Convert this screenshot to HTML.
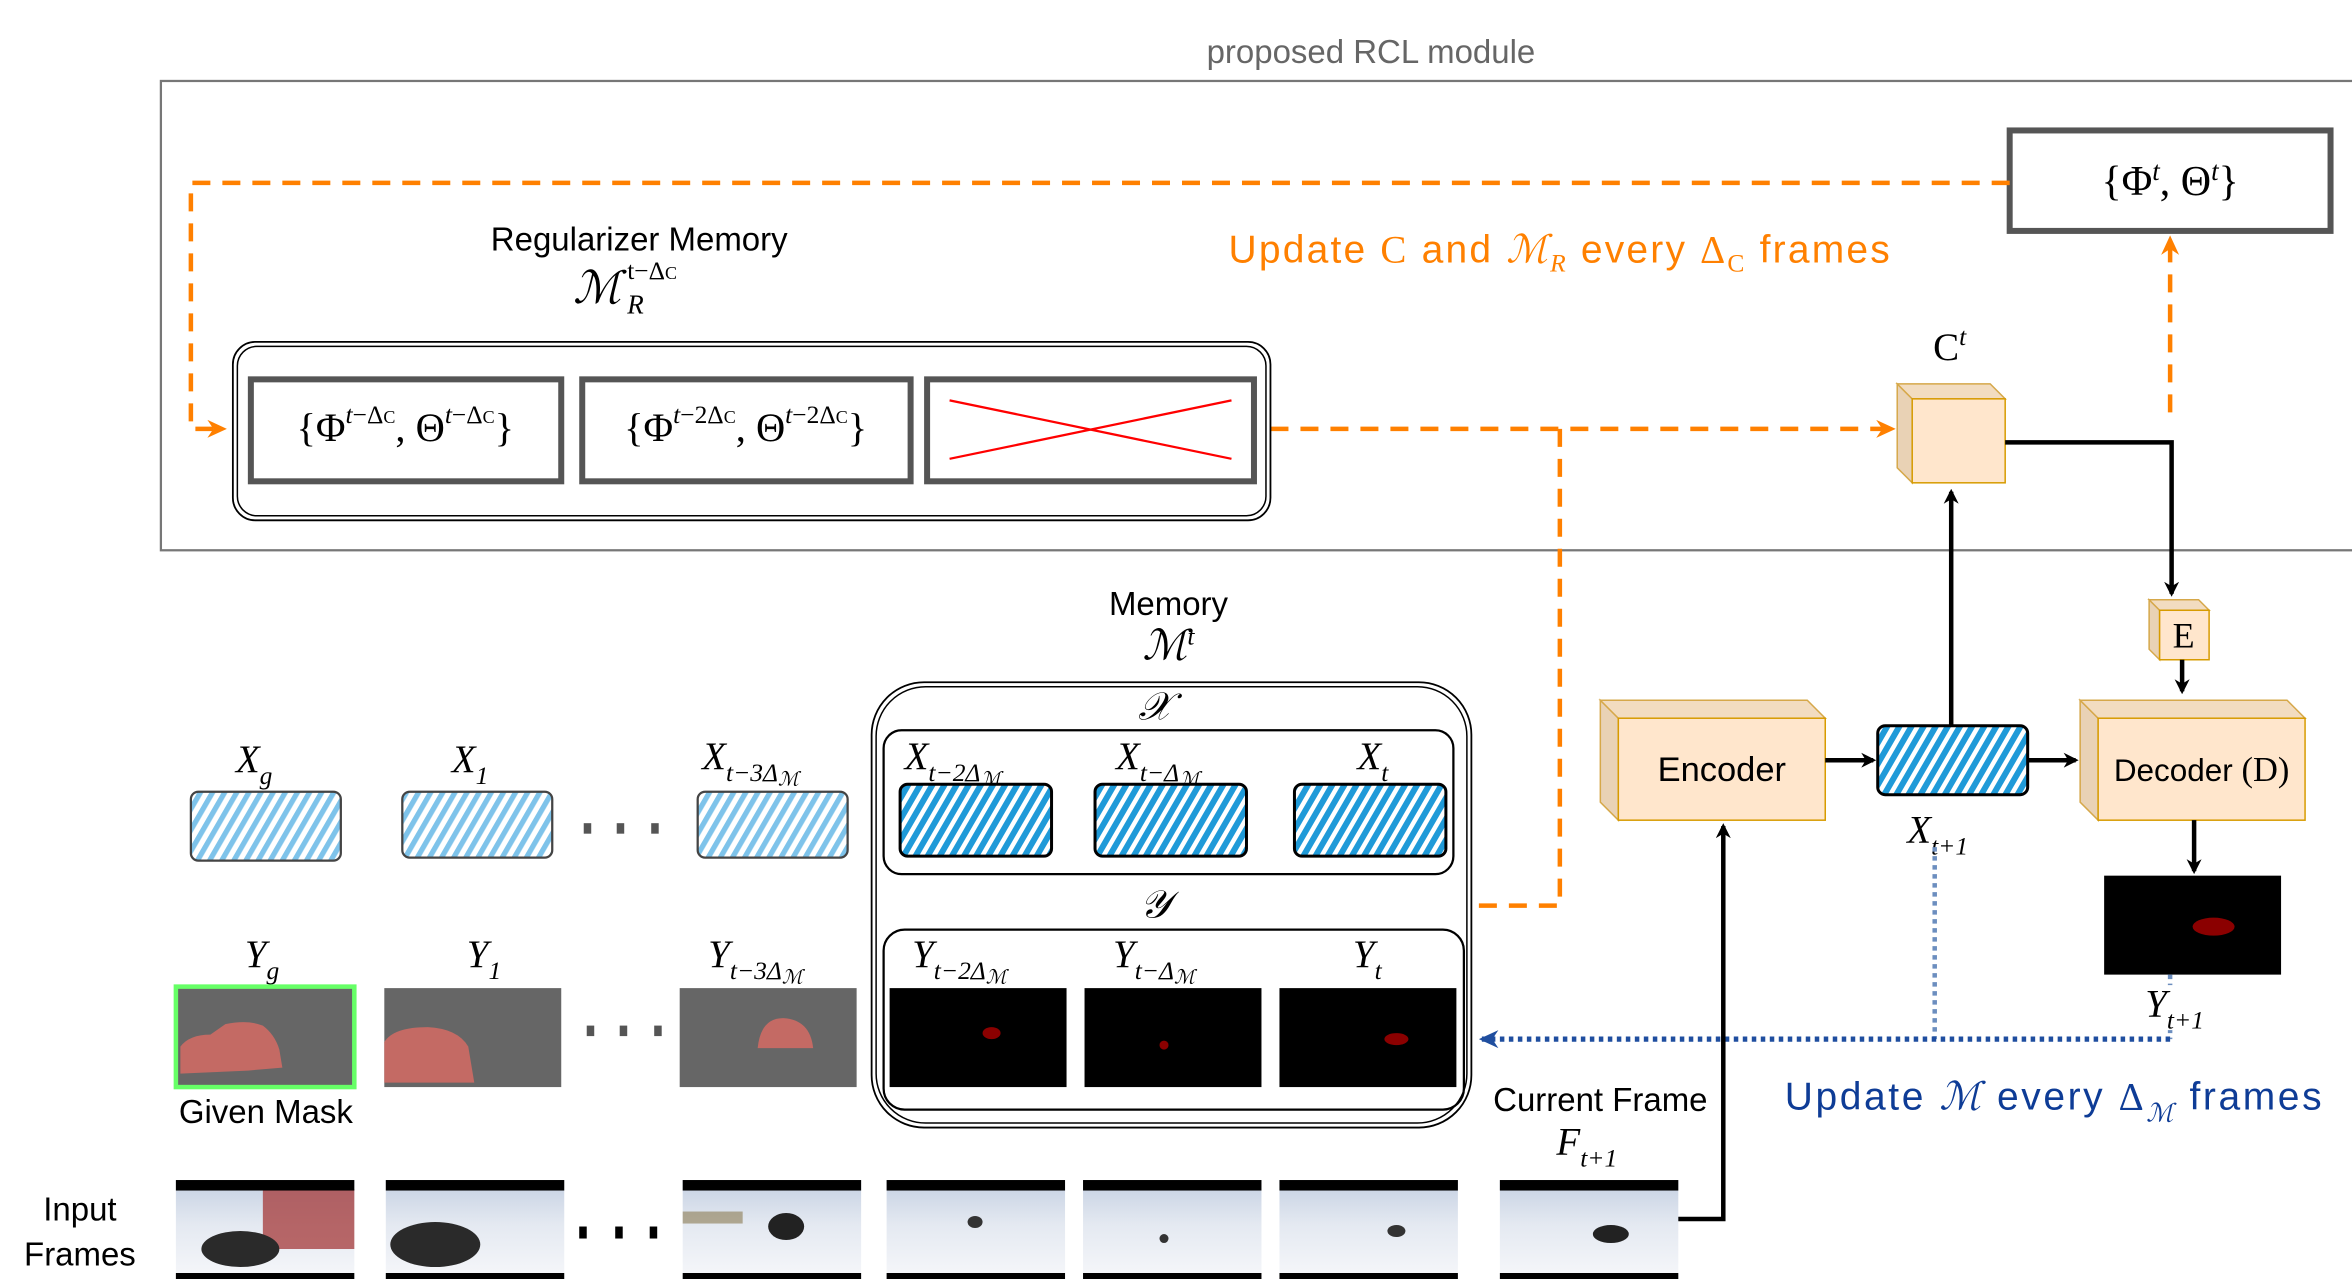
<!DOCTYPE html>
<html><head><meta charset="utf-8"><style>
html,body{margin:0;padding:0;background:#fff;}
svg{display:block}
.s{font-family:"Liberation Sans",sans-serif;}
.m{font-family:"Liberation Serif",serif;font-style:italic;}
.r{font-family:"Liberation Serif",serif;}
</style></head><body>
<svg width="2352" height="1282" viewBox="0 0 1568 855" xmlns="http://www.w3.org/2000/svg">
<defs>
<pattern id="h1" patternUnits="userSpaceOnUse" width="7" height="7" patternTransform="rotate(30)">
<rect width="7" height="7" fill="#fff"/><rect width="3.5" height="7" fill="#7ec3ea"/></pattern>
<pattern id="h2" patternUnits="userSpaceOnUse" width="7" height="7" patternTransform="rotate(30)">
<rect width="7" height="7" fill="#fff"/><rect width="4" height="7" fill="#1f9ad8"/></pattern>
<marker id="ab" markerWidth="10" markerHeight="10" refX="8" refY="5" orient="auto" markerUnits="userSpaceOnUse"><path d="M0,0 L10,5 L0,10 L3,5z" fill="#000"/></marker>
<marker id="ao" markerWidth="14" markerHeight="14" refX="12" refY="7" orient="auto" markerUnits="userSpaceOnUse"><path d="M0,1 L13,7 L0,13 L4,7z" fill="#ff8000"/></marker>
<marker id="abl" markerWidth="14" markerHeight="14" refX="12" refY="7" orient="auto" markerUnits="userSpaceOnUse"><path d="M0,1 L13,7 L0,13 L4,7z" fill="#1f4e9f"/></marker>
<linearGradient id="fr" x1="0" y1="0" x2="0" y2="1"><stop offset="0" stop-color="#c5d0e2"/><stop offset="0.45" stop-color="#e4e9f1"/><stop offset="1" stop-color="#f6f7fa"/></linearGradient>
</defs>

<text x="914" y="42" class="s" font-size="22" fill="#666" text-anchor="middle">proposed RCL module</text>
<rect x="107" y="54" width="1470" height="313" fill="none" stroke="#777" stroke-width="1.5"/>

<rect x="1340" y="87" width="214" height="67" fill="#fff" stroke="#555" stroke-width="4"/>
<text x="1447" y="130" class="r" font-size="28" text-anchor="middle">{Φ<tspan font-size="18" dy="-10" font-style="italic">t</tspan><tspan dy="10">, Θ</tspan><tspan font-size="18" dy="-10" font-style="italic">t</tspan><tspan dy="10">}</tspan></text>

<g stroke="#ff8000" stroke-width="3" stroke-dasharray="12,8" fill="none">
<path d="M1340,122 H127 V286 H150" marker-end="url(#ao)"/>
<path d="M847,286 H1263" marker-end="url(#ao)"/>
<path d="M1040,286 V604 H983"/>
<path d="M1447,275 V158" marker-end="url(#ao)"/>
</g>
<text x="819" y="175" class="s" font-size="26" fill="#ff8000" textLength="441" lengthAdjust="spacing">Update <tspan class="r">C</tspan> and <tspan class="m">ℳ</tspan><tspan class="m" font-size="17" dy="6">R</tspan><tspan dy="-6"> every </tspan><tspan class="r">Δ</tspan><tspan class="r" font-size="17" dy="6">C</tspan><tspan dy="-6"> frames</tspan></text>

<text x="426" y="167" class="s" font-size="22" text-anchor="middle">Regularizer Memory</text>
<text x="398" y="202" class="m" font-size="30" text-anchor="middle">ℳ</text>
<text x="418" y="186" class="r" font-size="17">t−Δ<tspan font-size="12">C</tspan></text>
<text x="418" y="209" class="m" font-size="18">R</text>

<rect x="155" y="228" width="692" height="119" rx="15" fill="#fff" stroke="#000" stroke-width="1.2"/>
<rect x="158" y="231" width="686" height="113" rx="13" fill="none" stroke="#000" stroke-width="1"/>
<rect x="167" y="253" width="207" height="68" fill="#fff" stroke="#555" stroke-width="4"/>
<rect x="388" y="253" width="219" height="68" fill="#fff" stroke="#555" stroke-width="4"/>
<rect x="618" y="253" width="218" height="68" fill="#fff" stroke="#555" stroke-width="4"/>
<text x="270" y="294" class="r" font-size="27" text-anchor="middle">{Φ<tspan font-size="17" dy="-12" font-style="italic">t</tspan><tspan font-size="17" dy="0">−Δ</tspan><tspan font-size="12">C</tspan><tspan dy="12">, Θ</tspan><tspan font-size="17" dy="-12" font-style="italic">t</tspan><tspan font-size="17">−Δ</tspan><tspan font-size="12">C</tspan><tspan dy="12">}</tspan></text>
<text x="497" y="294" class="r" font-size="27" text-anchor="middle">{Φ<tspan font-size="17" dy="-12" font-style="italic">t</tspan><tspan font-size="17">−2Δ</tspan><tspan font-size="12">C</tspan><tspan dy="12">, Θ</tspan><tspan font-size="17" dy="-12" font-style="italic">t</tspan><tspan font-size="17">−2Δ</tspan><tspan font-size="12">C</tspan><tspan dy="12">}</tspan></text>
<line x1="633" y1="267" x2="821" y2="306" stroke="#f00" stroke-width="1.5"/>
<line x1="633" y1="306" x2="821" y2="267" stroke="#f00" stroke-width="1.5"/>

<path d="M1265,256 L1275,266 L1275,322 L1265,312z" fill="#e9d2b5" stroke="#d6a84a"/>
<path d="M1265,256 L1327,256 L1337,266 L1275,266z" fill="#f2dcc0" stroke="#d6a84a"/>
<rect x="1275" y="266" width="62" height="56" fill="#ffe6cc" stroke="#d79b00"/>
<text x="1300" y="240" class="r" font-size="26" text-anchor="middle">C<tspan font-size="17" dy="-10" font-style="italic">t</tspan></text>

<path d="M1337,295 H1448 V396" fill="none" stroke="#000" stroke-width="3" marker-end="url(#ab)"/>
<path d="M1433,400 L1440,407 L1440,440 L1433,433z" fill="#e9d2b5" stroke="#d6a84a"/>
<path d="M1433,400 L1466,400 L1473,407 L1440,407z" fill="#f2dcc0" stroke="#d6a84a"/>
<rect x="1440" y="407" width="33" height="33" fill="#ffe6cc" stroke="#d79b00"/>
<text x="1456" y="432" class="r" font-size="24" text-anchor="middle">E</text>
<path d="M1455,440 V461" stroke="#000" stroke-width="3" marker-end="url(#ab)"/>

<path d="M1067,467 L1079,479 L1079,547 L1067,535z" fill="#e9d2b5" stroke="#d6a84a"/>
<path d="M1067,467 L1205,467 L1217,479 L1079,479z" fill="#f2dcc0" stroke="#d6a84a"/>
<rect x="1079" y="479" width="138" height="68" fill="#ffe6cc" stroke="#d79b00"/>
<text x="1148" y="521" class="s" font-size="23" text-anchor="middle">Encoder</text>
<path d="M1387,467 L1399,479 L1399,547 L1387,535z" fill="#e9d2b5" stroke="#d6a84a"/>
<path d="M1387,467 L1525,467 L1537,479 L1399,479z" fill="#f2dcc0" stroke="#d6a84a"/>
<rect x="1399" y="479" width="138" height="68" fill="#ffe6cc" stroke="#d79b00"/>
<text x="1468" y="521" class="s" font-size="21" text-anchor="middle">Decoder <tspan class="r" font-size="23">(D)</tspan></text>

<path d="M1217,507 H1249" stroke="#000" stroke-width="3" marker-end="url(#ab)"/>
<rect x="1252" y="484" width="100" height="46" rx="5" fill="url(#h2)" stroke="#000" stroke-width="2"/>
<path d="M1352,507 H1384" stroke="#000" stroke-width="3" marker-end="url(#ab)"/>
<path d="M1301,484 V328" stroke="#000" stroke-width="3" marker-end="url(#ab)"/>
<text x="1292" y="562" class="m" font-size="26" text-anchor="middle">X<tspan font-size="17" dy="8">t+1</tspan></text>
<path d="M1463,547 V581" stroke="#000" stroke-width="3" marker-end="url(#ab)"/>
<rect x="1403" y="584" width="118" height="66" fill="#000"/>
<ellipse cx="1476" cy="618" rx="14" ry="6" fill="#8b0000"/>

<path d="M1290,565 V693 M1447,650 V693" stroke="#6c8ebf" stroke-width="3" stroke-dasharray="3,3" fill="none"/>
<path d="M1447,693 H987" stroke="#1f4e9f" stroke-width="3.5" stroke-dasharray="3,3" fill="none" marker-end="url(#abl)"/>
<rect x="1432" y="657" width="40" height="30" fill="#fff"/>
<text x="1450" y="678" class="m" font-size="26" text-anchor="middle">Y<tspan font-size="17" dy="8">t+1</tspan></text>
<text x="1190" y="740" class="s" font-size="26" fill="#0e3c96" textLength="358" lengthAdjust="spacing">Update <tspan class="m">ℳ</tspan> every <tspan class="r">Δ</tspan><tspan class="m" font-size="17" dy="8">ℳ</tspan><tspan dy="-8"> frames</tspan></text>

<text x="779" y="410" class="s" font-size="22" text-anchor="middle">Memory</text>
<text x="779" y="440" class="m" font-size="28" text-anchor="middle">ℳ<tspan font-size="17" dy="-10">t</tspan></text>
<rect x="581" y="455" width="400" height="297" rx="35" fill="#fff" stroke="#000" stroke-width="1.2"/>
<rect x="584" y="458" width="394" height="291" rx="33" fill="none" stroke="#000" stroke-width="1"/>
<text x="770" y="480" class="m" font-size="26" text-anchor="middle">𝒳</text>
<rect x="589" y="487" width="380" height="96" rx="12" fill="none" stroke="#000" stroke-width="1.5"/>
<text x="770" y="612" class="m" font-size="26" text-anchor="middle">𝒴</text>
<rect x="589" y="620" width="387" height="120" rx="14" fill="none" stroke="#000" stroke-width="1.5"/>

<g class="m" font-size="26">
<text x="603" y="513">X<tspan font-size="17" dy="8">t−2Δ</tspan><tspan font-size="13" dy="3">ℳ</tspan></text>
<text x="744" y="513">X<tspan font-size="17" dy="8">t−Δ</tspan><tspan font-size="13" dy="3">ℳ</tspan></text>
<text x="905" y="513">X<tspan font-size="17" dy="8">t</tspan></text>
<text x="157" y="515">X<tspan font-size="17" dy="8">g</tspan></text>
<text x="301" y="515">X<tspan font-size="17" dy="8">1</tspan></text>
<text x="468" y="513">X<tspan font-size="17" dy="8">t−3Δ</tspan><tspan font-size="13" dy="3">ℳ</tspan></text>
<text x="608" y="645">Y<tspan font-size="17" dy="8">t−2Δ</tspan><tspan font-size="13" dy="3">ℳ</tspan></text>
<text x="742" y="645">Y<tspan font-size="17" dy="8">t−Δ</tspan><tspan font-size="13" dy="3">ℳ</tspan></text>
<text x="902" y="645">Y<tspan font-size="17" dy="8">t</tspan></text>
<text x="163" y="645">Y<tspan font-size="17" dy="8">g</tspan></text>
<text x="311" y="645">Y<tspan font-size="17" dy="8">1</tspan></text>
<text x="472" y="645">Y<tspan font-size="17" dy="8">t−3Δ</tspan><tspan font-size="13" dy="3">ℳ</tspan></text>
</g>

<rect x="600" y="523" width="101" height="48" rx="5" fill="url(#h2)" stroke="#000" stroke-width="2"/>
<rect x="730" y="523" width="101" height="48" rx="5" fill="url(#h2)" stroke="#000" stroke-width="2"/>
<rect x="863" y="523" width="101" height="48" rx="5" fill="url(#h2)" stroke="#000" stroke-width="2"/>
<rect x="127" y="528" width="100" height="46" rx="5" fill="url(#h1)" stroke="#444" stroke-width="1.5"/>
<rect x="268" y="528" width="100" height="44" rx="5" fill="url(#h1)" stroke="#444" stroke-width="1.5"/>
<rect x="465" y="528" width="100" height="44" rx="5" fill="url(#h1)" stroke="#444" stroke-width="1.5"/>
<g fill="#555"><rect x="389" y="549" width="5" height="7"/><rect x="411" y="549" width="5" height="7"/><rect x="434" y="549" width="5" height="7"/>
<rect x="391" y="684" width="5" height="7"/><rect x="413" y="684" width="5" height="7"/><rect x="436" y="684" width="5" height="7"/></g>

<rect x="117" y="658" width="119" height="67" fill="#666" stroke="#6f6" stroke-width="3"/>
<path d="M120,716 L120,698 Q126,690 140,690 L150,683 Q165,680 175,684 Q183,690 186,700 L188,712 L165,714z" fill="#c46a64"/>
<rect x="256" y="659" width="118" height="66" fill="#666"/>
<path d="M256,722 L256,695 Q262,685 285,685 Q305,686 312,698 L316,722z" fill="#c46a64"/>
<rect x="453" y="659" width="118" height="66" fill="#666"/>
<path d="M505,699 Q507,679 522,679 Q540,680 542,699z" fill="#c46a64"/>
<rect x="593" y="659" width="118" height="66" fill="#000"/><ellipse cx="661" cy="689" rx="6" ry="4" fill="#8b0000"/>
<rect x="723" y="659" width="118" height="66" fill="#000"/><ellipse cx="776" cy="697" rx="3" ry="3" fill="#8b0000"/>
<rect x="853" y="659" width="118" height="66" fill="#000"/><ellipse cx="931" cy="693" rx="8" ry="4" fill="#8b0000"/>
<text x="177" y="749" class="s" font-size="22" text-anchor="middle">Given Mask</text>

<text x="1067" y="741" class="s" font-size="22" text-anchor="middle">Current Frame</text>
<text x="1058" y="770" class="m" font-size="26" text-anchor="middle">F<tspan font-size="17" dy="8">t+1</tspan></text>
<text x="53" y="814" class="s" font-size="22" text-anchor="middle">Input</text>
<text x="53" y="844" class="s" font-size="22" text-anchor="middle">Frames</text>

<g>
<rect x="117" y="787" width="119" height="66" fill="url(#fr)"/><rect x="175" y="793" width="61" height="40" fill="#a43838" opacity="0.75"/><ellipse cx="160" cy="833" rx="26" ry="12" fill="#2a2a2a"/>
<rect x="257" y="787" width="119" height="66" fill="url(#fr)"/><ellipse cx="290" cy="830" rx="30" ry="15" fill="#2a2a2a"/>
<rect x="455" y="787" width="119" height="66" fill="url(#fr)"/><rect x="455" y="808" width="40" height="8" fill="#8a7a50" opacity="0.6"/><ellipse cx="524" cy="818" rx="12" ry="9" fill="#222"/>
<rect x="591" y="787" width="119" height="66" fill="url(#fr)"/><ellipse cx="650" cy="815" rx="5" ry="4" fill="#333"/>
<rect x="722" y="787" width="119" height="66" fill="url(#fr)"/><ellipse cx="776" cy="826" rx="3" ry="3" fill="#333"/>
<rect x="853" y="787" width="119" height="66" fill="url(#fr)"/><ellipse cx="931" cy="821" rx="6" ry="4" fill="#333"/>
<rect x="1000" y="787" width="119" height="66" fill="url(#fr)"/><ellipse cx="1074" cy="823" rx="12" ry="6" fill="#222"/>
<g fill="#000">
<rect x="117" y="787" width="119" height="7"/><rect x="117" y="849" width="119" height="4"/>
<rect x="257" y="787" width="119" height="7"/><rect x="257" y="849" width="119" height="4"/>
<rect x="455" y="787" width="119" height="7"/><rect x="455" y="849" width="119" height="4"/>
<rect x="591" y="787" width="119" height="7"/><rect x="591" y="849" width="119" height="4"/>
<rect x="722" y="787" width="119" height="7"/><rect x="722" y="849" width="119" height="4"/>
<rect x="853" y="787" width="119" height="7"/><rect x="853" y="849" width="119" height="4"/>
<rect x="1000" y="787" width="119" height="7"/><rect x="1000" y="849" width="119" height="4"/>
<rect x="386" y="818" width="5" height="8"/><rect x="410" y="818" width="5" height="8"/><rect x="433" y="818" width="5" height="8"/>
</g></g>
<path d="M1119,813 H1149 V551" fill="none" stroke="#000" stroke-width="3" marker-end="url(#ab)"/>
</svg>
</body></html>
